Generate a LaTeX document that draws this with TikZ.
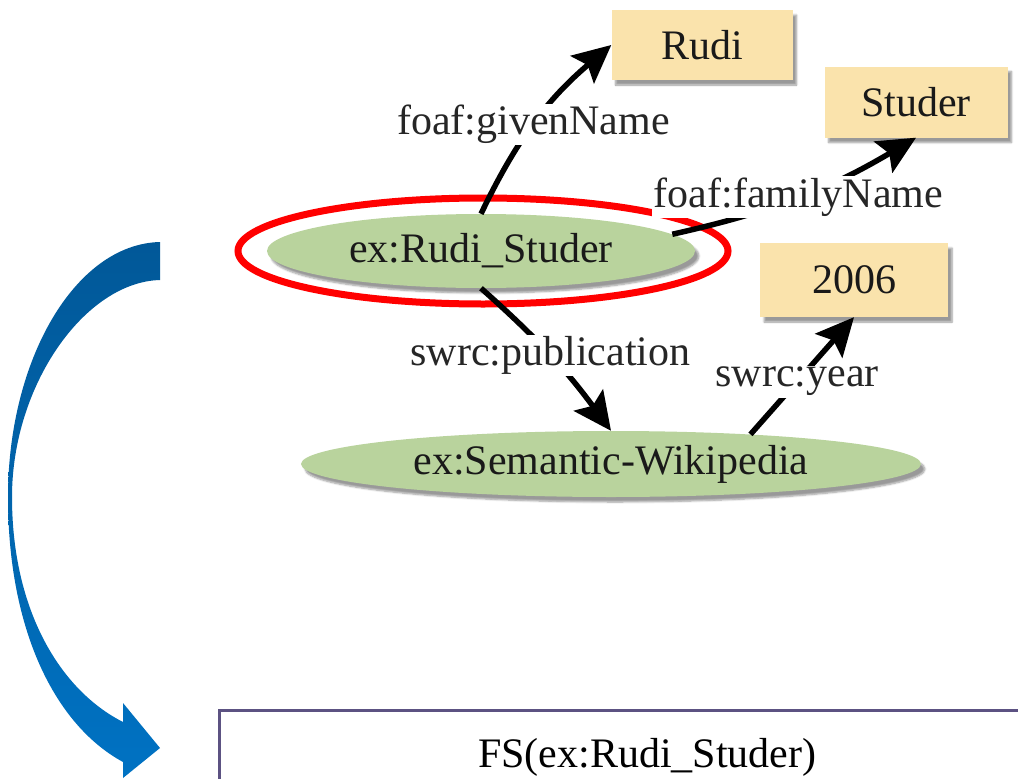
\documentclass[tikz,border=0pt]{standalone}
\usepackage{fontspec}
\setmainfont{Liberation Serif}
\usetikzlibrary{arrows.meta,shapes.geometric,shadows.blur}
\definecolor{nodegreen}{RGB}{185,211,157}
\definecolor{litbox}{RGB}{250,227,172}
\definecolor{flowtop}{RGB}{1,88,152}
\definecolor{flowbot}{RGB}{0,114,195}
\definecolor{panelline}{RGB}{92,82,130}
\tikzset{
  softshadow/.style={blur shadow={shadow xshift=4pt, shadow yshift=-5pt,
      shadow blur steps=6, shadow opacity=40}},
  resource/.style={ellipse, fill=nodegreen, inner sep=0pt, text=black!90, softshadow},
  literal/.style={rectangle, fill=litbox, inner sep=0pt, text=black!90, softshadow},
  rel/.style={line width=5.5pt, -{Stealth[length=38pt,width=36pt,inset=7pt]}},
  lbl/.style={fill=white, inner sep=1.5pt, text=black!85},
  ring/.style={ellipse, draw=red, line width=7pt, inner sep=0pt},
  panel/.style={rectangle, draw=panelline, line width=2.5pt, inner sep=0pt}
}
\begin{document}
\begin{tikzpicture}[x=1pt, y=-1pt, font=\fontsize{42}{48}\selectfont]
  \useasboundingbox (0,0) rectangle (1018,779);
  \clip (0,0) rectangle (1018,779);

  % literal values
  \node[literal, minimum width=181pt, minimum height=70pt] (rudi) at (702,45) {Rudi};
  \node[literal, minimum width=183pt, minimum height=71pt] (studer) at (916,102) {Studer};
  \node[literal, minimum width=188pt, minimum height=74pt] (y2006) at (854,280) {2006};

  % resources
  \node[resource, minimum width=428pt, minimum height=74pt] (rs) at (481,251) {ex:Rudi\_Studer};
  \node[resource, minimum width=620pt, minimum height=66pt] (sw) at (611,464) {ex:Semantic-Wikipedia};

  % highlight around the focus resource
  \node[ring, minimum width=490pt, minimum height=106pt] (hl) at (483,251) {};

  % properties
  \draw[rel] (rs.north) to[bend left=12] node[lbl, pos=0.48] {foaf:givenName} (rudi.west);
  \draw[rel] (rs.5) to[bend right=9] node[lbl, pos=0.5] {foaf:familyName} (studer.south);
  \draw[rel] (rs.south) to[bend left=6] node[lbl, pos=0.5] {swrc:publication} (sw.north);
  \draw[rel] (sw.12) -- node[lbl, pos=0.45] {swrc:year} (y2006.south);

  % result panel
  \node[panel, anchor=north west, minimum width=856pt, minimum height=94pt] (fs) at (218,709)
    {FS(ex:Rudi\_Studer)};

  % curved transition arrow
  \coordinate (flowtip) at (160,748);
  \shade[top color=flowtop, bottom color=flowbot]
    (160,242) .. controls (75,244) and (8,360) .. (8,497)
    .. controls (8,630) and (55,725) .. (123,762)
    -- (123,778) -- (flowtip) -- (123,703) -- (123,722)
    .. controls (60,690) and (12,610) .. (12,497)
    .. controls (12,385) and (85,282) .. (160,280) -- cycle;
\end{tikzpicture}
\end{document}
